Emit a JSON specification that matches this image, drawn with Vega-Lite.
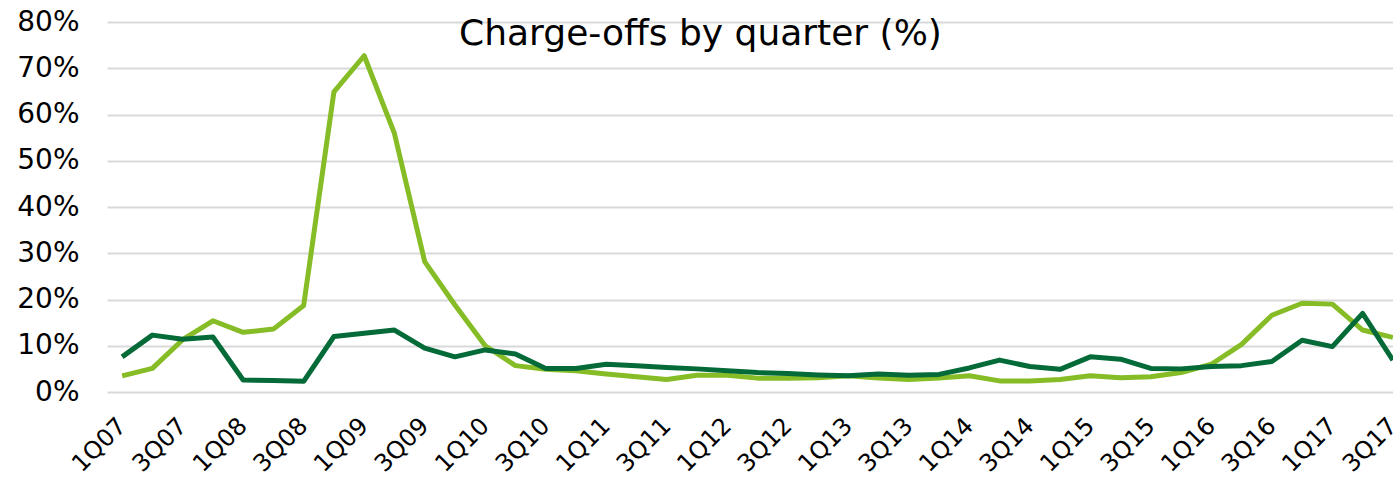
{
  "$schema": "https://vega.github.io/schema/vega-lite/v6.json",
  "autosize": "none",
  "width": 1301,
  "height": 370,
  "padding": {"left": 107, "top": 22, "right": -15, "bottom": 90},
  "background": "white",
  "title": {
    "text": "Charge-offs by quarter (%)",
    "anchor": "middle",
    "frame": "group",
    "offset": -45,
    "dx": -57,
    "font": "DejaVu Sans",
    "fontSize": 36,
    "fontWeight": "normal",
    "color": "#000000"
  },
  "config": {
    "view": {"stroke": null},
    "font": "DejaVu Sans"
  },
  "data": {
    "values": [
      {"quarter": "1Q07", "series": "Series 1", "value": 3.5}, {"quarter": "1Q07", "series": "Series 2", "value": 7.6},
      {"quarter": "2Q07", "series": "Series 1", "value": 5.1}, {"quarter": "2Q07", "series": "Series 2", "value": 12.3},
      {"quarter": "3Q07", "series": "Series 1", "value": 11.3}, {"quarter": "3Q07", "series": "Series 2", "value": 11.4},
      {"quarter": "4Q07", "series": "Series 1", "value": 15.4}, {"quarter": "4Q07", "series": "Series 2", "value": 11.9},
      {"quarter": "1Q08", "series": "Series 1", "value": 12.9}, {"quarter": "1Q08", "series": "Series 2", "value": 2.6},
      {"quarter": "2Q08", "series": "Series 1", "value": 13.6}, {"quarter": "2Q08", "series": "Series 2", "value": 2.5},
      {"quarter": "3Q08", "series": "Series 1", "value": 18.7}, {"quarter": "3Q08", "series": "Series 2", "value": 2.3},
      {"quarter": "4Q08", "series": "Series 1", "value": 64.9}, {"quarter": "4Q08", "series": "Series 2", "value": 12.0},
      {"quarter": "1Q09", "series": "Series 1", "value": 72.7}, {"quarter": "1Q09", "series": "Series 2", "value": 12.7},
      {"quarter": "2Q09", "series": "Series 1", "value": 55.9}, {"quarter": "2Q09", "series": "Series 2", "value": 13.4},
      {"quarter": "3Q09", "series": "Series 1", "value": 28.2}, {"quarter": "3Q09", "series": "Series 2", "value": 9.5},
      {"quarter": "4Q09", "series": "Series 1", "value": 18.8}, {"quarter": "4Q09", "series": "Series 2", "value": 7.6},
      {"quarter": "1Q10", "series": "Series 1", "value": 10.0}, {"quarter": "1Q10", "series": "Series 2", "value": 9.1},
      {"quarter": "2Q10", "series": "Series 1", "value": 5.7}, {"quarter": "2Q10", "series": "Series 2", "value": 8.2},
      {"quarter": "3Q10", "series": "Series 1", "value": 4.9}, {"quarter": "3Q10", "series": "Series 2", "value": 5.1},
      {"quarter": "4Q10", "series": "Series 1", "value": 4.6}, {"quarter": "4Q10", "series": "Series 2", "value": 5.1},
      {"quarter": "1Q11", "series": "Series 1", "value": 3.9}, {"quarter": "1Q11", "series": "Series 2", "value": 6.0},
      {"quarter": "2Q11", "series": "Series 1", "value": 3.3}, {"quarter": "2Q11", "series": "Series 2", "value": 5.7},
      {"quarter": "3Q11", "series": "Series 1", "value": 2.7}, {"quarter": "3Q11", "series": "Series 2", "value": 5.3},
      {"quarter": "4Q11", "series": "Series 1", "value": 3.6}, {"quarter": "4Q11", "series": "Series 2", "value": 5.0},
      {"quarter": "1Q12", "series": "Series 1", "value": 3.6}, {"quarter": "1Q12", "series": "Series 2", "value": 4.6},
      {"quarter": "2Q12", "series": "Series 1", "value": 3.0}, {"quarter": "2Q12", "series": "Series 2", "value": 4.2},
      {"quarter": "3Q12", "series": "Series 1", "value": 3.0}, {"quarter": "3Q12", "series": "Series 2", "value": 4.0},
      {"quarter": "4Q12", "series": "Series 1", "value": 3.1}, {"quarter": "4Q12", "series": "Series 2", "value": 3.7},
      {"quarter": "1Q13", "series": "Series 1", "value": 3.5}, {"quarter": "1Q13", "series": "Series 2", "value": 3.5},
      {"quarter": "2Q13", "series": "Series 1", "value": 3.0}, {"quarter": "2Q13", "series": "Series 2", "value": 3.9},
      {"quarter": "3Q13", "series": "Series 1", "value": 2.7}, {"quarter": "3Q13", "series": "Series 2", "value": 3.6},
      {"quarter": "4Q13", "series": "Series 1", "value": 3.0}, {"quarter": "4Q13", "series": "Series 2", "value": 3.8},
      {"quarter": "1Q14", "series": "Series 1", "value": 3.5}, {"quarter": "1Q14", "series": "Series 2", "value": 5.2},
      {"quarter": "2Q14", "series": "Series 1", "value": 2.4}, {"quarter": "2Q14", "series": "Series 2", "value": 6.9},
      {"quarter": "3Q14", "series": "Series 1", "value": 2.4}, {"quarter": "3Q14", "series": "Series 2", "value": 5.5},
      {"quarter": "4Q14", "series": "Series 1", "value": 2.7}, {"quarter": "4Q14", "series": "Series 2", "value": 4.9},
      {"quarter": "1Q15", "series": "Series 1", "value": 3.5}, {"quarter": "1Q15", "series": "Series 2", "value": 7.6},
      {"quarter": "2Q15", "series": "Series 1", "value": 3.1}, {"quarter": "2Q15", "series": "Series 2", "value": 7.1},
      {"quarter": "3Q15", "series": "Series 1", "value": 3.3}, {"quarter": "3Q15", "series": "Series 2", "value": 5.1},
      {"quarter": "4Q15", "series": "Series 1", "value": 4.2}, {"quarter": "4Q15", "series": "Series 2", "value": 5.0},
      {"quarter": "1Q16", "series": "Series 1", "value": 6.0}, {"quarter": "1Q16", "series": "Series 2", "value": 5.5},
      {"quarter": "2Q16", "series": "Series 1", "value": 10.3}, {"quarter": "2Q16", "series": "Series 2", "value": 5.7},
      {"quarter": "3Q16", "series": "Series 1", "value": 16.6}, {"quarter": "3Q16", "series": "Series 2", "value": 6.6},
      {"quarter": "4Q16", "series": "Series 1", "value": 19.2}, {"quarter": "4Q16", "series": "Series 2", "value": 11.2},
      {"quarter": "1Q17", "series": "Series 1", "value": 19.0}, {"quarter": "1Q17", "series": "Series 2", "value": 9.8},
      {"quarter": "2Q17", "series": "Series 1", "value": 13.4}, {"quarter": "2Q17", "series": "Series 2", "value": 17.0},
      {"quarter": "3Q17", "series": "Series 1", "value": 11.8}, {"quarter": "3Q17", "series": "Series 2", "value": 6.9}
    ]
  },
  "mark": {"type": "line", "strokeWidth": 5, "strokeJoin": "round", "strokeCap": "butt", "clip": false},
  "encoding": {
    "x": {
      "field": "quarter",
      "type": "ordinal",
      "sort": null,
      "scale": {"type": "point", "padding": 0.5},
      "axis": {
        "title": null,
        "values": ["1Q07","3Q07","1Q08","3Q08","1Q09","3Q09","1Q10","3Q10","1Q11","3Q11","1Q12","3Q12","1Q13","3Q13","1Q14","3Q14","1Q15","3Q15","1Q16","3Q16","1Q17","3Q17"],
        "labelAngle": -45,
        "labelAlign": "right",
        "labelBaseline": "middle",
        "labelFont": "DejaVu Sans",
        "labelFontSize": 24,
        "labelColor": "#000000",
        "labelPadding": 30,
        "labelOverlap": false,
        "labelBound": false,
        "labelFlush": false,
        "ticks": false,
        "domain": false,
        "grid": false
      }
    },
    "y": {
      "field": "value",
      "type": "quantitative",
      "scale": {"domain": [0, 80], "nice": false, "zero": true},
      "axis": {
        "title": null,
        "values": [0, 10, 20, 30, 40, 50, 60, 70, 80],
        "labelExpr": "datum.value + '%'",
        "labelFont": "DejaVu Sans",
        "labelFontSize": 28,
        "labelColor": "#000000",
        "labelPadding": 28,
        "ticks": false,
        "domain": false,
        "grid": true,
        "gridColor": "#d9d9d9",
        "gridWidth": 2
      }
    },
    "color": {
      "field": "series",
      "type": "nominal",
      "scale": {"domain": ["Series 1", "Series 2"], "range": ["#86BC25", "#046A38"]},
      "legend": null
    }
  }
}
